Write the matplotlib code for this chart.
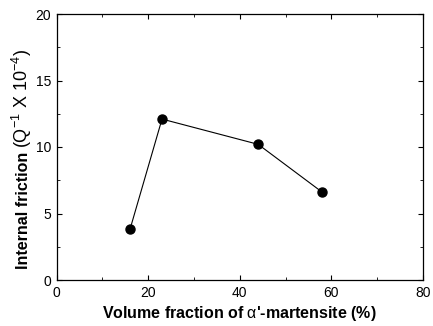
import matplotlib
matplotlib.use("Agg")
import matplotlib.pyplot as plt
from matplotlib.ticker import MultipleLocator

plt.rcParams['font.family'] = ['Liberation Sans', 'DejaVu Sans']
plt.rcParams['mathtext.fontset'] = 'custom'
plt.rcParams['mathtext.rm'] = 'Liberation Sans'
plt.rcParams['mathtext.bf'] = 'Liberation Sans:bold'
plt.rcParams['mathtext.it'] = 'Liberation Sans:italic'

# data
vol_fraction = [16, 23, 44, 58]
friction = [3.8, 12.1, 10.2, 6.6]

W, H = 433, 326
fig = plt.figure(figsize=(W / 100, H / 100), dpi=100)
ax = fig.add_axes([56.7 / W, 46 / H, (423 - 56.7) / W, (280 - 14) / H])

ax.plot(vol_fraction, friction, '-o', color='k', lw=0.8, ms=6.5)

ax.set_xlim(0, 80)
ax.set_ylim(0, 20)
ax.xaxis.set_major_locator(MultipleLocator(20))
ax.xaxis.set_minor_locator(MultipleLocator(10))
ax.yaxis.set_major_locator(MultipleLocator(5))
ax.yaxis.set_minor_locator(MultipleLocator(2.5))
ax.tick_params(which='both', direction='in', top=True, right=True, labelsize=10)
ax.tick_params(which='major', length=3.5, width=0.8, pad=4)
ax.tick_params(which='minor', length=2, width=0.6)
for s in ax.spines.values():
    s.set_linewidth(0.9)

ax.set_xlabel(r"Volume fraction of $\mathrm{\alpha}$'-martensite (%)",
              fontsize=11.5, fontweight='bold', labelpad=3.5)

# y label: bold words followed by regular units
t1 = fig.text(28 / W, (H - 269) / H, "Internal friction", fontsize=11.5,
              fontweight='bold', rotation=90, rotation_mode='anchor',
              ha='left', va='baseline')
fig.canvas.draw()
bb = t1.get_window_extent()
fig.text(28 / W, (bb.y1 + 4) / H, r"(Q$^{-1}$ X 10$^{-4}$)", fontsize=13,
         rotation=90, rotation_mode='anchor', ha='left', va='baseline')

fig.savefig("out.png", dpi=100)
